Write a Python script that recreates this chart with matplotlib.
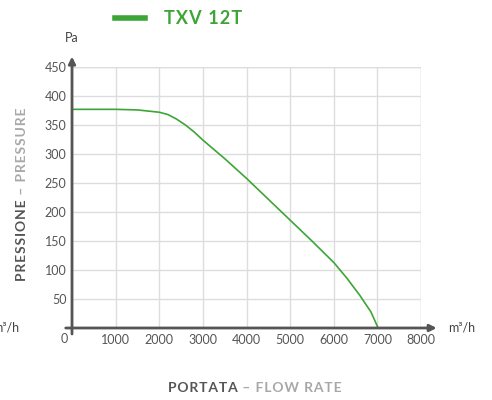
import matplotlib
matplotlib.use('Agg')
import matplotlib.pyplot as plt

plt.rcParams['font.family'] = ['Lato', 'DejaVu Sans']

# curva TXV 12T (portata m3/h, pressione Pa)
portata = [0, 500, 1000, 1500, 2000, 2200, 2400, 2600, 2800, 3000, 3500, 4000, 4500, 5000, 5500, 6000, 6300, 6600, 6850, 7000]
pressione = [377, 377, 377, 376, 372, 368, 360, 350, 338, 324, 292, 258, 222, 186, 150, 113, 86, 56, 28, 3]

x_ticks = [0, 1000, 2000, 3000, 4000, 5000, 6000, 7000, 8000]
y_ticks = [50, 100, 150, 200, 250, 300, 350, 400, 450]

VERDE = '#3DA535'
GRIGIO_ASSE = '#555555'
GRIGIO_TESTO = '#555555'
GRIGIO_CHIARO = '#A8A8A8'


def spaziato(testo):
    """aggiunge un piccolo spazio tra le lettere (letter-spacing)"""
    return '\u200a'.join(testo)


fig = plt.figure(figsize=(4.92, 4.0), dpi=100)
ax = fig.add_axes([72 / 492, 1 - 328 / 400, (421 - 72) / 492, (328 - 67) / 400])

ax.plot(portata, pressione, color=VERDE, linewidth=1.2, zorder=3)

ax.set_xlim(0, 8000)
ax.set_ylim(0, 450)
ax.set_xticks(x_ticks)
ax.set_yticks(y_ticks)
ax.grid(True, color='#DDDDDD', linewidth=1.0)
ax.set_axisbelow(True)
for s in ax.spines.values():
    s.set_visible(False)
ax.tick_params(length=0, labelsize=9, colors=GRIGIO_TESTO, pad=4)
ax.set_xticklabels([''] + [str(v) for v in x_ticks[1:]])
fig.text(64 / 492, 1 - 339 / 400, '0', ha='center', va='center', fontsize=9, color=GRIGIO_TESTO)

# bordo destro e superiore della griglia
ax.axvline(8000, color='#DDDDDD', linewidth=1.0, zorder=0)
ax.axhline(450, color='#DDDDDD', linewidth=1.0, zorder=0)

# assi con freccia
ax.annotate('', xy=(1.045, 0), xytext=(-0.018, 0), xycoords='axes fraction',
            arrowprops=dict(arrowstyle='-|>', color=GRIGIO_ASSE, lw=2, mutation_scale=10,
                            shrinkA=0, shrinkB=0), annotation_clip=False)
ax.annotate('', xy=(0, 1.04), xytext=(0, -0.023), xycoords='axes fraction',
            arrowprops=dict(arrowstyle='-|>', color=GRIGIO_ASSE, lw=2, mutation_scale=10,
                            shrinkA=0, shrinkB=0), annotation_clip=False)

fig.text(72 / 492, 1 - 38 / 400, 'Pa', ha='center', va='center', fontsize=9, color='#444444')
fig.text(448 / 492, 1 - 328 / 400, 'm³/h', ha='left', va='center', fontsize=9, color='#444444')
fig.text(19 / 492, 1 - 328 / 400, 'm³/h', ha='right', va='center', fontsize=9, color='#444444')

# legenda in alto
fig.lines.append(plt.Line2D([115 / 492, 145 / 492], [1 - 18 / 400] * 2, transform=fig.transFigure,
                            color=VERDE, linewidth=4))
fig.text(164 / 492, 1 - 18 / 400, spaziato('TXV 12T'), ha='left', va='center', fontsize=13,
         fontweight='bold', color=VERDE)

# titoli assi
fig.canvas.draw()
r = fig.canvas.get_renderer()
t1 = fig.text(168 / 492, 1 - 388 / 400, spaziato('PORTATA'), ha='left', va='center', fontsize=10,
              fontweight='bold', color=GRIGIO_TESTO)
bb = t1.get_window_extent(r).transformed(fig.transFigure.inverted())
fig.text(bb.x1, 1 - 388 / 400, spaziato(' – FLOW RATE'), ha='left', va='center', fontsize=10,
         fontweight='bold', color=GRIGIO_CHIARO)

t2 = fig.text(22 / 492, 1 - 281 / 400, spaziato('PRESSIONE'), ha='center', va='bottom', rotation=90,
              fontsize=10, fontweight='bold', color=GRIGIO_TESTO)
bb = t2.get_window_extent(r).transformed(fig.transFigure.inverted())
fig.text(22 / 492, bb.y1, spaziato(' – PRESSURE'), ha='center', va='bottom', rotation=90,
         fontsize=10, fontweight='bold', color=GRIGIO_CHIARO)

fig.savefig('out.png', dpi=100)
